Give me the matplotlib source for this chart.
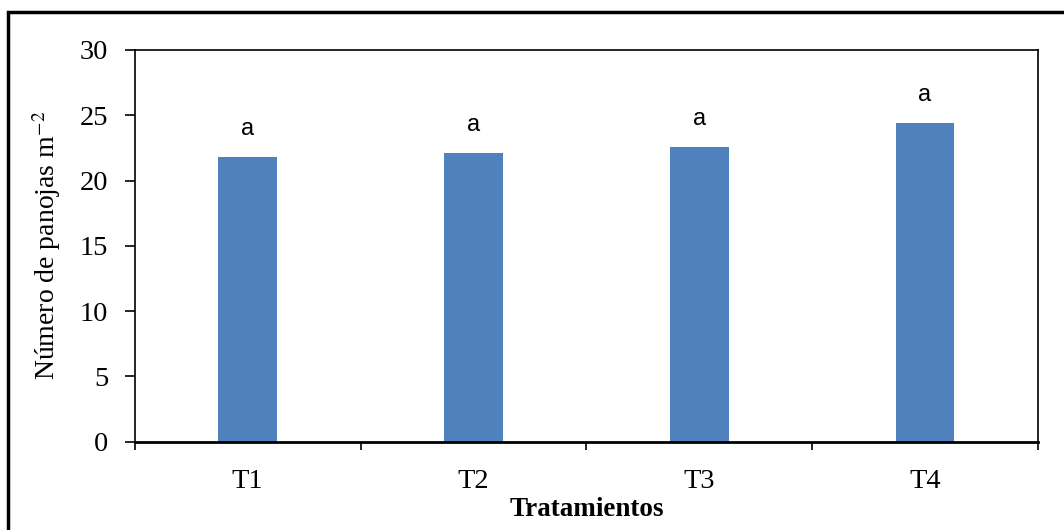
import matplotlib.pyplot as plt
from matplotlib.patches import Rectangle

# data
tratamientos = ['T1', 'T2', 'T3', 'T4']
panojas = [21.8, 22.1, 22.6, 24.4]
letras = ['a', 'a', 'a', 'a']

plt.rcParams['font.family'] = ['Liberation Serif']
plt.rcParams['mathtext.fontset'] = 'stix'

fig = plt.figure(figsize=(10.64, 5.30), dpi=100)
ax = fig.add_axes([0.1266, 0.1666, 0.8489, 0.7391])

x = range(len(tratamientos))
bars = ax.bar(x, panojas, width=0.26, color='#4F81BD', zorder=2)

for b, l in zip(bars, letras):
    ax.annotate(l, (b.get_x() + b.get_width() / 2, b.get_height()),
                xytext=(0, 12), textcoords='offset points',
                ha='center', va='bottom', fontsize=17,
                family='Liberation Sans')

ax.set_xlim(-0.5, len(tratamientos) - 0.5)
ax.set_ylim(0, 30)
ax.set_yticks(range(0, 31, 5))
ax.set_xticks([i - 0.5 for i in range(len(tratamientos) + 1)], minor=False)
ax.set_xticklabels([])
ax.set_xticks(list(x), minor=True)
ax.set_xticklabels(tratamientos, minor=True)
ax.tick_params(axis='x', which='major', direction='out', length=6, width=1.2)
ax.tick_params(axis='x', which='minor', length=0, pad=20, labelsize=20.5)
ax.tick_params(axis='y', direction='out', length=7, width=1.2, labelsize=20.5, pad=12)

for s in ax.spines.values():
    s.set_linewidth(1.2)
ax.spines['bottom'].set_linewidth(2)

ax.set_ylabel('Número de panojas m$^{-2}$', fontsize=20, labelpad=12)
ax.set_xlabel('Tratamientos', fontsize=19.5, fontweight='bold', labelpad=2)

# outer frame of the figure
fig.patches.append(Rectangle((8 / 1064, -0.1), 1.2, 1.1 - 12 / 530,
                             transform=fig.transFigure, fill=False,
                             edgecolor='black', linewidth=2.5))

plt.savefig('out.png', dpi=100)
